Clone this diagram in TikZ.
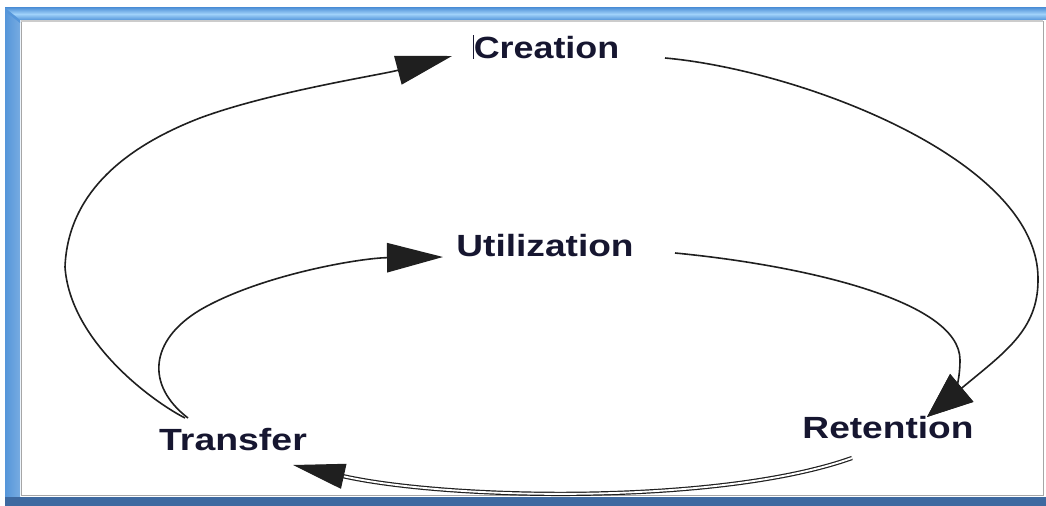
\documentclass[tikz,border=0pt]{standalone}
\usepackage{fontspec}
\setmainfont{Liberation Sans}
\usetikzlibrary{arrows.meta}
\definecolor{txt}{RGB}{22,22,48}
\definecolor{fbA}{RGB}{85,150,218}
\definecolor{fbB}{RGB}{160,210,250}
\definecolor{fbD}{RGB}{62,105,160}
\begin{document}
\begin{tikzpicture}[x=0.75pt,y=-0.75pt,
  lbl/.style={font=\fontsize{23}{26}\selectfont\bfseries, text=txt, inner sep=0pt},
  conn/.style={draw=black!88, line width=1.2pt},
  headL/.style={-{Triangle[length=42pt,width=22pt]}},
  headR/.style={-{Triangle[length=34pt,width=27pt]}},
  headB/.style={-{Triangle[length=39pt,width=19pt]}},
  dbl/.style={double=white, double distance=1.4pt, line width=0.9pt}
]
\useasboundingbox (0,0) rectangle (1046,506);
% frame
\fill[white] (0,0) rectangle (1046,506);
\shade[top color=fbA, bottom color=fbA, middle color=fbB] (5,8) rectangle (1046,20);
\shade[left color=fbA, right color=fbA!80!white] (5,8) -- (20,20) -- (20,506) -- (5,506) -- cycle;
\fill[fbD] (5,497) rectangle (1046,506);
\fill[fbA] (5,8) -- (20,20) -- (20,23) -- (5,11) -- cycle;
\draw[gray!70, line width=1.2pt] (21.5,21) -- (21.5,495.5) -- (1043.5,495.5) -- (1043.5,21);
\draw[gray!40, line width=1pt] (21,21) -- (1043,21);

% nodes
\node[lbl] (cr) at (546,47) {\rule[-0.5pt]{0.8pt}{18pt}\scalebox{1.17}[1]{Creation}};
\node[lbl] (ut) at (545,246) {\scalebox{1.21}[1]{Utilization}};
\node[lbl] (tr) at (233,440) {\scalebox{1.22}[1]{Transfer}};
\node[lbl] (re) at (888,428) {\scalebox{1.21}[1]{Retention}};

% connector end points
\coordinate (trA) at (185,418);
\coordinate (trB) at (188,418);
\coordinate (crIn) at (452,56);
\coordinate (utIn) at (443,257);
\coordinate (crOut) at (665,58);
\coordinate (utOut) at (675,253);
\coordinate (reIn) at (927,417);
\coordinate (reOut) at (852,458);
\coordinate (trIn) at (293,465);

% Transfer -> Creation (outer left)
\draw[conn, headL] (trA) .. controls (150,400) and (70,340) .. (65,267)
   .. controls (68,190) and (130,145) .. (200,118)
   .. controls (270,92) and (380,75) .. (crIn);
% Transfer -> Utilization (inner left)
\draw[conn, headL] (trB) .. controls (145,385) and (150,340) .. (200,310)
   .. controls (260,275) and (360,258) .. (utIn);
% Creation -> Retention (outer right)
\draw[conn, headR] (crOut) .. controls (800,70) and (1040,160) .. (1038,280)
   .. controls (1038,330) and (1005,352) .. (reIn);
% Utilization -> Retention (inner right)
\draw[conn, headR] (utOut) .. controls (800,265) and (960,300) .. (960,360)
   .. controls (960,385) and (952,396) .. (reIn);
% Retention -> Transfer (bottom, double line)
\draw[conn, dbl, headB] (reOut) .. controls (720,505) and (450,500) .. (trIn);
\end{tikzpicture}
\end{document}
